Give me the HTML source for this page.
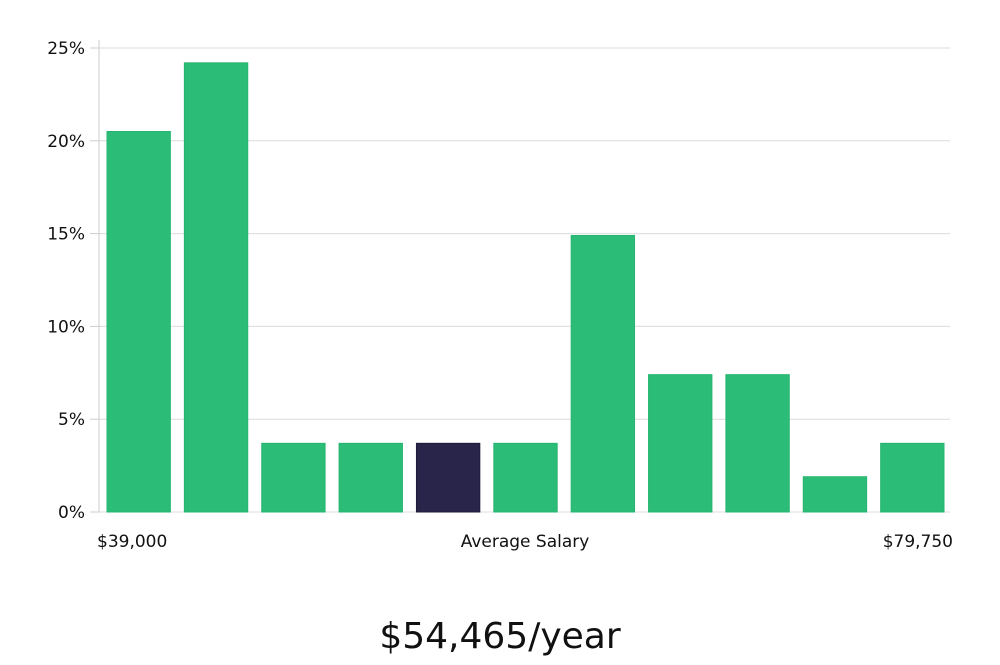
<!DOCTYPE html>
<html><head><meta charset="utf-8"><style>
body{margin:0;background:#fff;width:1000px;height:660px;overflow:hidden}
svg text{font-family:"DejaVu Sans","Liberation Sans",sans-serif;fill:#111}
</style></head><body>
<svg id="chart" width="1000" height="660" xmlns="http://www.w3.org/2000/svg"></svg>
<script>
const categories=["b1","b2","b3","b4","b5","b6","b7","b8","b9","b10","b11"];
const values=[20.5,24.2,3.7,3.7,3.7,3.7,14.9,7.4,7.4,1.9,3.7];
const highlightIndex=4;
const yTicks=[0,5,10,15,20,25];
const xLabels=["$39,000","Average Salary","$79,750"];
const ns="http://www.w3.org/2000/svg";
const svg=document.getElementById('chart');
const x0=99,x1=950,yBase=512,yTop=48,yMax=25;
const y=v=>yBase-(v/yMax)*(yBase-yTop);
const step=(x1-x0)/categories.length;
const xb=i=>x0+8+i*step;
function mk(t,a){const e=document.createElementNS(ns,t);for(const k in a)e.setAttribute(k,a[k]);svg.appendChild(e);return e;}
yTicks.forEach(t=>{
 const g=mk('line',{x1:x0,x2:x1,y1:y(t),y2:y(t),stroke:'#dcdcdc','stroke-width':1});
 
 
 const tk=mk('line',{x1:90,x2:x0,y1:y(t),y2:y(t),stroke:'#ccc','stroke-width':1});
 
 
 const l=mk('text',{x:85,y:y(t)+6,'text-anchor':'end','font-size':17});
 l.textContent=t+'%';
 
 
});
const ax=mk('line',{x1:x0,x2:x0,y1:40,y2:yBase,stroke:'#ccc','stroke-width':1});


values.forEach((v,i)=>{
 const r=mk('rect',{x:xb(i),y:y(v),width:step-14,height:yBase-y(v),fill:i===highlightIndex?'#29254a':'#2bbd77',stroke:i===highlightIndex?'#1f1c3a':'#27b570','stroke-width':1});
 
 
});
const pos=[[97,'start'],[525,'middle'],[953,'end']];
xLabels.forEach((s,i)=>{
 const t=mk('text',{x:pos[i][0],y:547,'text-anchor':pos[i][1],'font-size':17});
 t.textContent=s;
 
 
});
const ttl=mk('text',{x:500,y:648,'text-anchor':'middle','font-size':36});
ttl.setAttribute('font-family','"Liberation Sans",sans-serif');
ttl.textContent='$54,465/year';


</script>
</body></html>
